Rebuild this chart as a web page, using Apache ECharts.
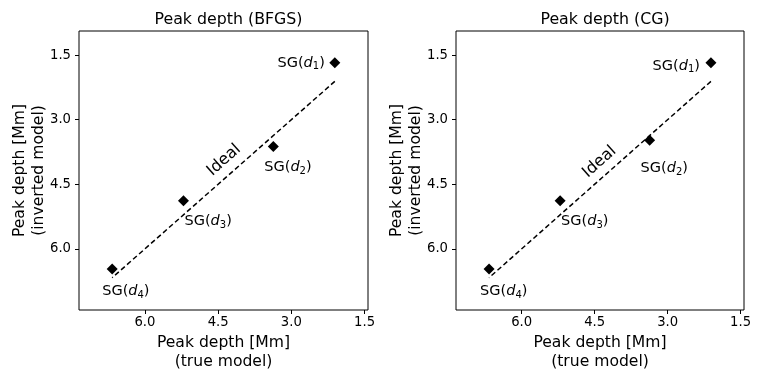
<!DOCTYPE html>
<html>
<head>
<meta charset="utf-8">
<script src="https://cdn.jsdelivr.net/npm/echarts@6/dist/echarts.min.js"></script>
<style>
  html, body { margin: 0; padding: 0; background: #fff; }
  #chart { width: 763px; height: 382px; }
</style>
</head>
<body>
<div id="chart"></div>
<script>
// peak depths [Mm]
const trueDepth = [2.11, 3.37, 5.21, 6.67];
const bfgsDepth = [1.68, 3.62, 4.88, 6.47];
const cgDepth = [1.68, 3.48, 4.88, 6.47];
const pointIndex = ['1', '2', '3', '4'];
const tickValues = [1.5, 3.0, 4.5, 6.0];
const panelTitles = ['Peak depth (BFGS)', 'Peak depth (CG)'];
const panelDepths = [bfgsDepth, cgDepth];
// where the "Ideal" text is anchored, in data units
const idealLabelAt = [[4.38, 3.94], [4.40, 3.98]];

const FONT = 'DejaVu Sans';
const chart = echarts.init(document.getElementById('chart'));

// where the SG(d_i) labels sit relative to their marker (px)
const labelOffsets = [
  [['right', -10, 0], ['left', -9, 21], ['left', 1, 21], ['left', -10, 22]],
  [['right', -11, 3], ['left', -9, 28], ['left', 1, 21], ['left', -9, 22]]
];

const grids = [
  { left: 79, right: 395, top: 31, bottom: 72 },
  { left: 456, right: 19, top: 31, bottom: 72 }
];

const rich = {
  n: { fontFamily: FONT, fontSize: 14.5, color: '#000', lineHeight: 18 },
  i: { fontFamily: FONT, fontSize: 14.5, fontStyle: 'italic', color: '#000', lineHeight: 18 },
  s: { fontFamily: FONT, fontSize: 10, color: '#000', lineHeight: 10, verticalAlign: 'bottom' }
};

const xAxes = [], yAxes = [], series = [], titles = [];
grids.forEach((g, k) => {
  g.show = true;
  g.borderColor = '#000';
  g.borderWidth = 1;
  titles.push({
    text: panelTitles[k],
    left: k === 0 ? 223.5 : 600,
    top: 7,
    textAlign: 'center',
    textStyle: { fontFamily: FONT, fontSize: 15.8, fontWeight: 'normal', color: '#000' }
  });
  xAxes.push({
    type: 'value', gridIndex: k, inverse: true, min: 1.43, max: 7.35,
    name: 'Peak depth [Mm]\n(true model)', nameLocation: 'middle', nameGap: 22,
    nameTextStyle: { fontFamily: FONT, fontSize: 15.6, color: '#000', lineHeight: 19 },
    axisLine: { show: false },
    axisTick: { show: true, length: 4, customValues: tickValues, lineStyle: { color: '#000' } },
    axisLabel: { customValues: tickValues, formatter: v => v.toFixed(1), fontFamily: FONT, fontSize: 13.2, color: '#000', margin: 6 },
    splitLine: { show: false }
  });
  yAxes.push({
    type: 'value', gridIndex: k, inverse: true, min: 0.94, max: 7.42,
    name: 'Peak depth [Mm]\n(inverted model)', nameLocation: 'middle', nameGap: 31, nameRotate: 90,
    nameMoveOverlap: false,
    nameTextStyle: { fontFamily: FONT, fontSize: 15.6, color: '#000', lineHeight: 19 },
    axisLine: { show: false },
    axisTick: { show: true, length: 4, customValues: tickValues, lineStyle: { color: '#000' } },
    axisLabel: { customValues: tickValues, formatter: v => v.toFixed(1), fontFamily: FONT, fontSize: 13.2, color: '#000', margin: 8 },
    splitLine: { show: false }
  });

  const lo = Math.min(...trueDepth), hi = Math.max(...trueDepth);
  series.push({
    type: 'scatter', xAxisIndex: k, yAxisIndex: k,
    symbol: 'diamond', symbolSize: 11,
    itemStyle: { color: '#000', opacity: 1 },
    data: trueDepth.map((t, i) => ({
      value: [t, panelDepths[k][i]],
      label: {
        show: true, position: 'inside',
        align: labelOffsets[k][i][0], verticalAlign: 'middle',
        offset: [labelOffsets[k][i][1], labelOffsets[k][i][2]],
        formatter: '{n|SG(}{i|d}{s|' + pointIndex[i] + '}{n|)}',
        rich: rich
      }
    })),
    markLine: {
      silent: true, symbol: 'none', animation: false,
      lineStyle: { color: '#000', width: 1.5, type: [5, 3], opacity: 1 },
      label: { show: false },
      data: [[{ coord: [lo, lo] }, { coord: [hi, hi] }]]
    }
  });
  series.push({
    type: 'scatter', xAxisIndex: k, yAxisIndex: k,
    symbolSize: 0, silent: true,
    itemStyle: { opacity: 1 },
    data: [idealLabelAt[k]],
    label: {
      show: true, position: 'inside', formatter: 'Ideal', rotate: 41.7,
      fontFamily: FONT, fontSize: 16, color: '#000', opacity: 1
    }
  });
});

chart.setOption({
  animation: false,
  backgroundColor: '#fff',
  title: titles,
  grid: grids,
  xAxis: xAxes,
  yAxis: yAxes,
  series: series
});
</script>
</body>
</html>
